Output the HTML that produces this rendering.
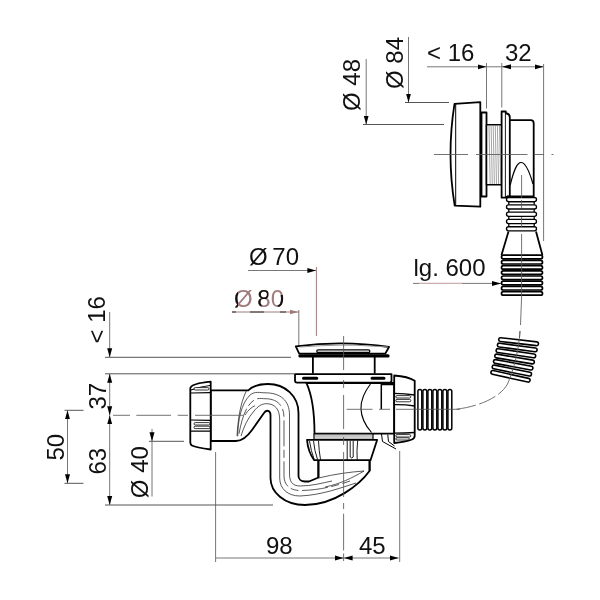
<!DOCTYPE html>
<html><head><meta charset="utf-8">
<style>
html,body{margin:0;padding:0;background:#fff;width:600px;height:600px;overflow:hidden}
svg{display:block;will-change:transform}
text{font-family:"Liberation Sans",sans-serif;font-size:24px;fill:#111}
.o{word-spacing:-2px}
</style></head><body>
<svg width="600" height="600" viewBox="0 0 600 600">
<defs>
<marker id="ar" viewBox="0 0 9 6" refX="9" refY="3" markerWidth="9" markerHeight="6" markerUnits="userSpaceOnUse" orient="auto-start-reverse">
<path d="M0,0.5 L9,3 L0,5.5 Z" fill="#000"/>
</marker>
<marker id="ar2" viewBox="0 0 9 6" refX="9" refY="3" markerWidth="9" markerHeight="6" markerUnits="userSpaceOnUse" orient="auto">
<path d="M0,0.5 L9,3 L0,5.5 Z" fill="#a07c7c"/>
</marker>
</defs>
<rect width="600" height="600" fill="#fff"/>

<g stroke="#777" stroke-width="1" fill="none">
  <line x1="427" y1="66.8" x2="486.5" y2="66.8" marker-end="url(#ar)"/>
  <line x1="486.5" y1="66.8" x2="502" y2="66.8"/>
  <line x1="502" y1="66.8" x2="543.6" y2="66.8" marker-start="url(#ar)" marker-end="url(#ar)"/>
  <line x1="486.5" y1="63" x2="486.5" y2="108.5"/>
  <line x1="501.8" y1="63" x2="501.8" y2="107.5"/>
  <line x1="543.6" y1="64" x2="543.6" y2="241"/>
  <line x1="408.5" y1="37" x2="408.5" y2="102.5" marker-end="url(#ar)"/>
  <line x1="366.2" y1="59" x2="366.2" y2="124.5" marker-end="url(#ar)"/>
  <line x1="248" y1="270.5" x2="316.4" y2="270.5" marker-end="url(#ar)"/>
  <line x1="413" y1="283.4" x2="501" y2="283.4" marker-end="url(#ar)"/>
  <line x1="109.7" y1="312" x2="109.7" y2="357.3" marker-end="url(#ar)"/>
  <line x1="109.7" y1="373.8" x2="109.7" y2="415.3" marker-start="url(#ar)" marker-end="url(#ar)"/>
  <line x1="109.7" y1="415.3" x2="109.7" y2="505" marker-start="url(#ar)" marker-end="url(#ar)"/>
  <line x1="67.5" y1="410.3" x2="67.5" y2="483.3" marker-start="url(#ar)" marker-end="url(#ar)"/>
  <line x1="152" y1="429" x2="152" y2="441.3" marker-end="url(#ar)"/>
  <line x1="152" y1="441.3" x2="152" y2="496.5"/>
  <line x1="216" y1="558" x2="343.6" y2="558" marker-end="url(#ar)"/>
  <line x1="343.6" y1="558" x2="398.6" y2="558" marker-start="url(#ar)" marker-end="url(#ar)"/>
  <line x1="215.6" y1="452" x2="215.6" y2="562"/>
  <line x1="399.7" y1="451" x2="399.7" y2="562"/>
  <line x1="298.8" y1="310" x2="298.8" y2="346.5"/>
</g>
<g stroke="#555" stroke-width="1" fill="none">
  <line x1="405" y1="102.5" x2="449" y2="102.5"/>
  <line x1="363" y1="124.5" x2="444" y2="124.5"/>
  <line x1="105" y1="357.3" x2="291" y2="357.3"/>
  <line x1="105" y1="373.8" x2="294" y2="373.8"/>
  <line x1="105" y1="505" x2="273" y2="505"/>
  <line x1="64.5" y1="410.3" x2="83.5" y2="410.3"/>
  <line x1="64.5" y1="483.3" x2="83.5" y2="483.3"/>
  <line x1="149" y1="441.3" x2="184" y2="441.3"/>
</g>
<g stroke="#a07c7c" stroke-width="1" fill="none">
  <line x1="232" y1="312" x2="298.5" y2="312" marker-end="url(#ar2)"/>
  <path d="M232,312 H236 M250,312 H264 M280,312 H286" stroke="#333"/>
  <path d="M419,283.4 H462" stroke="#d8b4b4"/>
  <line x1="316.4" y1="267" x2="316.4" y2="336"/>
</g>

<text x="427" y="61">&lt; 16</text>
<text x="505" y="61">32</text>
<text transform="translate(360.3,111) rotate(-90)">Ø 48</text>
<text transform="translate(403.2,89) rotate(-90)">Ø 84</text>
<text class="o" x="249" y="264.5">Ø 70</text>
<text class="o" x="234" y="306.5" style="fill:#a07c7c">Ø 80</text>
<clipPath id="c80"><rect x="232" y="287" width="6" height="22"/><rect x="256" y="287" width="12" height="12"/><rect x="256" y="299" width="5.5" height="10"/><rect x="277.8" y="295" width="6" height="12"/></clipPath>
<text class="o" x="234" y="306.5" clip-path="url(#c80)">Ø 80</text>
<text x="413.5" y="275.7">lg. 600</text>
<text transform="translate(105,343.5) rotate(-90)">&lt; 16</text>
<text transform="translate(105.5,409.5) rotate(-90)">37</text>
<text transform="translate(105.5,474.5) rotate(-90)">63</text>
<text transform="translate(63.5,460.5) rotate(-90)">50</text>
<text transform="translate(147.6,498.2) rotate(-90)">Ø 40</text>
<text x="266" y="554">98</text>
<text x="359" y="554">45</text>

<g stroke="#000" stroke-width="1.8" fill="#fff" stroke-linejoin="round">
  <path d="M454.5,103.8 L480.3,102.2 L480.3,206.7 L454.7,205.6 Q446.4,154.7 454.5,103.8 Z"/>
  <line x1="455.7" y1="104" x2="455.7" y2="205.5" stroke-width="1"/>
  <rect x="481.5" y="112.5" width="5" height="84"/>
  <rect x="486.5" y="124.8" width="15.2" height="60" stroke-width="1.5"/>
  <rect x="501.6" y="111.5" width="4.2" height="86.2"/>
  <path d="M505.8,113.5 L507,113.5 Q509.8,114 509.8,117.5 L509.8,196.3 L505.8,197"/>
  <path d="M509.8,120.2 L530.7,120.2 Q533.7,120.2 533.7,123.2 L533.7,196.3 L507,196.3" fill="none"/>
  <path d="M510.2,185 C514,170 517,162.5 521,162.5 C525,162.5 529,170 533,184" fill="none" stroke-width="1.2"/>
</g>
<g stroke="#666" stroke-width="0.6"><line x1="489.0" y1="125.5" x2="490.2" y2="184" /><line x1="491.1" y1="125.5" x2="492.3" y2="184" /><line x1="493.2" y1="125.5" x2="494.4" y2="184" /><line x1="495.3" y1="125.5" x2="496.5" y2="184" /><line x1="497.4" y1="125.5" x2="498.6" y2="184" /><line x1="499.5" y1="125.5" x2="500.7" y2="184" /></g>

<path d="M508.8,201.7 L508.8,230 M534.2,201.7 L534.2,230" stroke="#000" fill="none" stroke-width="1.3"/>
<g stroke="#000" stroke-width="1.35" fill="#fff"><rect x="506.5" y="197.5" width="30" height="4.2" rx="2.1"/><rect x="506.5" y="204.8" width="30" height="4.2" rx="2.1"/><rect x="506.5" y="212.1" width="30" height="4.2" rx="2.1"/><rect x="506.5" y="219.4" width="30" height="4.2" rx="2.1"/><rect x="506.5" y="226.7" width="30" height="4.2" rx="2.1"/></g>
<path d="M508.5,231.5 L501.5,255 M536,231.5 L542.4,255" stroke="#000" stroke-width="1.8" fill="none"/>
<g stroke="#000" stroke-width="1.7" fill="#fff"><rect x="501.5" y="255.20" width="41" height="3.6" rx="1.8"/><rect x="501.5" y="260.40" width="41" height="3.6" rx="1.8"/><rect x="501.5" y="265.60" width="41" height="3.6" rx="1.8"/><rect x="501.5" y="270.80" width="41" height="3.6" rx="1.8"/><rect x="501.5" y="276.00" width="41" height="3.6" rx="1.8"/><rect x="501.5" y="281.20" width="41" height="3.6" rx="1.8"/><rect x="501.5" y="286.40" width="41" height="3.6" rx="1.8"/><rect x="501.5" y="291.60" width="41" height="3.6" rx="1.8"/></g>
<g stroke="#000" stroke-width="1.6" fill="#fff"><rect x="-20" y="-1.9" width="40" height="3.8" rx="1.9" transform="translate(518.60,341.70) rotate(6.60)"/><rect x="-20" y="-1.9" width="40" height="3.8" rx="1.9" transform="translate(517.25,347.47) rotate(7.57)"/><rect x="-20" y="-1.9" width="40" height="3.8" rx="1.9" transform="translate(515.90,353.24) rotate(8.53)"/><rect x="-20" y="-1.9" width="40" height="3.8" rx="1.9" transform="translate(514.55,359.01) rotate(9.50)"/><rect x="-20" y="-1.9" width="40" height="3.8" rx="1.9" transform="translate(513.20,364.78) rotate(10.47)"/><rect x="-20" y="-1.9" width="40" height="3.8" rx="1.9" transform="translate(511.85,370.55) rotate(11.43)"/><rect x="-20" y="-1.9" width="40" height="3.8" rx="1.9" transform="translate(510.50,376.32) rotate(12.40)"/></g>
<g stroke="#000" stroke-width="1.5" fill="#fff"><rect x="417.90" y="389.4" width="3.9" height="40.6" rx="1.95"/><rect x="422.90" y="389.4" width="3.9" height="40.6" rx="1.95"/><rect x="427.90" y="389.4" width="3.9" height="40.6" rx="1.95"/><rect x="432.90" y="389.4" width="3.9" height="40.6" rx="1.95"/><rect x="437.90" y="389.4" width="3.9" height="40.6" rx="1.95"/><rect x="442.90" y="389.4" width="3.9" height="40.6" rx="1.95"/><rect x="447.90" y="389.4" width="3.9" height="40.6" rx="1.95"/></g>
<g stroke="#000" stroke-width="1.8" fill="#fff" stroke-linejoin="round">
  <path d="M210.7,390.3 L248.3,390.3 C254,385 260,384 268,384 C285,384 298.5,396 298.5,413 L298.5,476 C298.5,479 301,481.5 305,481.5 L309,481.5 L318.5,477.5 L318.5,460 L369.5,460 L369.5,471 C360,484 335,505 305,505 C284,505 270.5,492 270.5,478 L270.5,415 C270.5,410 266,409.5 264,413 L252,430 C247,437 242,441 236,441 L210.7,441 Z"/>
</g>
<g stroke="#222" stroke-width="0.75" fill="none">
  <path d="M237.7,436.3 C238,420 241,404 250,395 C255,391 260,392.8 265,392.8 C280,392.8 289.5,400 289.5,415 L289.5,474 C289.5,481 292,486 300,486 C312,486 322,483 332,481"/>
  <path d="M239,433.7 C242,418 246,404 256,399 C260,398 263,398.7 265,398.7 C277,398.7 284,405 284,418 L284,476 C284,485 290,490.5 300,490.5 C318,490.5 336,486 350,481" stroke-dasharray="26,3.5,8,3.5"/>
  <path d="M241,436 C244,426 248,418 254,411 C258,406 262,403.7 266.3,403.7 C275,403.7 279.7,409 279.7,420 L279.7,478 C279.7,489 288,496 300,496 C322,495 340,488 356,483"/>
  <path d="M237,436 C238,420 240,404 246.3,391"/>
  <path d="M245,415 C248,410 252,407 255,405.7"/>
  <path d="M318.5,478 C335,474 350,472 364,471"/>
  <path d="M325,487 C340,484 352,478 364,471"/>
</g>
<g stroke="#000" stroke-width="1.8" fill="#fff" stroke-linejoin="round">
  <path d="M190.3,388 Q192,383.5 210.7,381.7 L210.7,449.5 Q196,447.5 192,445.5 Q190.3,444.5 190.3,442.5 Z"/>
</g>
<g stroke="#000" stroke-width="1.2" fill="none">
  <path d="M191,390 Q200,386.5 210,385.5"/>
  <path d="M191,393 L210,392.6"/>
  <path d="M191,420 L210,420.3 M191,431.2 L210,431.2"/>
</g>
<g stroke="#000" stroke-width="0.8" fill="#fff">
  <rect x="194" y="387.6" width="15" height="2.4" rx="1.2"/>
  <rect x="194" y="422.6" width="16" height="2.4" rx="1.2"/>
  <rect x="194" y="426.2" width="16" height="2.4" rx="1.2"/>
</g>

<g stroke="#000" stroke-width="1.8" fill="#fff" stroke-linejoin="round">
  <path d="M306.5,383 C312,395 314.5,410 314.5,433.6 L394.2,433.6 L394.2,383 Z"/>
  <path d="M370.5,384 Q351,409 371.5,432.5" fill="none" stroke-width="1.1"/>
  <path d="M381.3,409.2 L381.3,384.5 L394.2,384.5" fill="none" stroke-width="1.5"/>
  <path d="M312.9,357 L312.9,373.6 M374.7,357 L374.7,373.6" fill="none"/>
  <path d="M295.8,346.4 Q343,340 389,347 L385.3,353.6 L299.2,353.6 Z"/>
  <rect x="316.8" y="349.9" width="53" height="2.6" rx="1.3" stroke-width="1.3"/>
  <path d="M300,355.9 L388,355.9" stroke-width="3.2" stroke-linecap="round"/>
  <path d="M300,347 Q343,343.8 370,346 L388,347" fill="none" stroke="#999" stroke-width="1"/>
  <path d="M295,374.1 L391.5,374.1 L391.5,380.5 Q391.5,382.6 389.4,382.6 L297.1,382.6 Q295,382.6 295,380.5 Z"/>
  <path d="M303.5,378.2 H316.8 M372,378.2 H384" stroke-width="3" stroke-linecap="round"/>
  <path d="M394.2,375.5 Q408,376.5 414.7,380.7 L414.7,435.5 Q414.7,438.5 412,439.5 Q405,442 394.2,443 Z"/>
  <path d="M394.2,393.3 Q405,393.5 414.7,395 M394.2,404.7 Q405,404.5 414.7,406 M394.2,433.2 Q405,433.2 414.7,432.5" fill="none" stroke-width="1.3"/>
  <rect x="314" y="433.8" width="59" height="6" fill="#e2e2e2" stroke-width="1.2"/>
  <path d="M307,439.8 L377.2,439.8 L370.5,460.2 L314.2,460.2 Q308,452 307,439.8 Z"/>
  <path d="M318.3,460.2 L318.3,477.5 M369.7,460.2 L369.7,471" fill="none"/>
  <path d="M381.5,434 L382.5,441.5 L396,449 M387.75,434.7 L388.5,441.5 L394.5,446" fill="none" stroke-width="1"/>
</g>
<path d="M315,436 H372 M315,438.2 H372" stroke="#888" stroke-width="0.6"/>
<g stroke="#000" stroke-width="0.8" fill="#fff">
  <rect x="395.8" y="395.6" width="15" height="2.4" rx="1.2"/>
  <rect x="395.8" y="399.4" width="15" height="2.4" rx="1.2"/>
  <rect x="395.8" y="434.6" width="15" height="2.4" rx="1.2"/>
  <rect x="395.8" y="437.8" width="13.5" height="2.2" rx="1.1"/>
</g>
<g stroke="#000" stroke-width="0.9" fill="none">
  <path d="M309.5,441 Q311,451 314,459 M313.5,441 Q314.5,451 317.5,459.5 M318.5,441 Q319,451 320.5,459.5"/>
  <path d="M347.2,440.5 L347.2,460 M350.2,441 L350.2,457 Q351.7,459 353.2,457 L353.2,441 M357.7,440.5 Q356.5,451 357.2,460"/>
</g>

<g stroke="#5a5a5a" stroke-width="0.85" fill="none">
  <path d="M434,154.5 H468 M476,154.5 H527.5 M534.7,154.5 H544 M551.5,154.5 H553.5"/>
  <path d="M113,415.3 H130 M136.3,415.3 H171 M177.7,415.3 H188 M195,415.3 H243"/>
  <path d="M343.6,336 V370 M343.6,380 V388 M343.6,395 V429 M343.6,437 V445 M343.6,452 V497 M343.6,503 V509 M343.6,513.7 V550.5 M343.6,553.5 V561"/>
  <path d="M346.6,409.3 H372.5 M379,409.3 H390 M396,409.3 H460"/>
  <path d="M521.6,175 L521.6,198 M521.6,200 L521.6,208 M521.6,217 L521.6,227 M521.6,234 L521.6,297 M521.6,297 L520.5,325 M520,331 L519.5,338"/>
  <path d="M520,331 C519,350 513,372 507.5,384"/>
</g>
<path d="M507.5,384 C501,396 482,406 456.5,409.2" stroke="#5a5a5a" stroke-width="0.85" fill="none" stroke-dasharray="14,3.5,18,3.5,40"/>

</svg>
</body></html>
